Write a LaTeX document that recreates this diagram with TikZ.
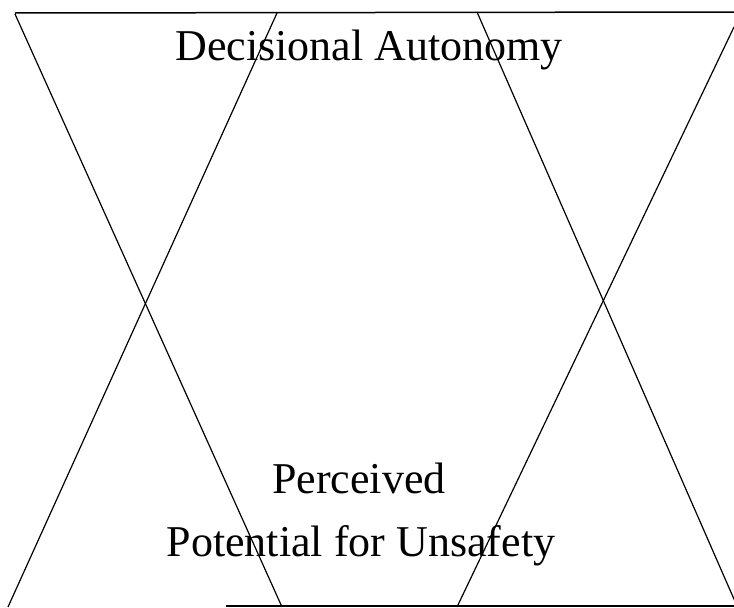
\documentclass[tikz,border=0pt]{standalone}
\usepackage{fontspec}
\setmainfont{Liberation Serif}
\usepackage{tikz}
\usetikzlibrary{positioning, calc}

\begin{document}
\begin{tikzpicture}[x=1pt, y=-1pt]
        \useasboundingbox (0,0) rectangle (734,608);

        % frame lines
        \draw[line width=1.5pt] (15,13) -- (734,12);
        \draw[line width=1.5pt] (226,606) -- (734,606);

        % left cross
        \draw[line width=1.2pt] (15,14) -- (282,607);
        \draw[line width=1.2pt] (277,13) -- (8,607);

        % right cross
        \draw[line width=1.2pt] (477,12) -- (737,606);
        \draw[line width=1.2pt] (457,607) -- (734,27);

        \node[anchor=base, inner sep=0pt, font=\fontsize{44}{63}\selectfont]
          (autonomy) at (369,60) {Decisional Autonomy};
        \node[anchor=base, inner sep=0pt, font=\fontsize{44}{63}\selectfont]
          (perceived) at (359,493) {Perceived};
        \node[anchor=base, inner sep=0pt, font=\fontsize{44}{63}\selectfont]
          (potential) at (361,556) {Potential for Unsafety};
      \end{tikzpicture}
\end{document}
